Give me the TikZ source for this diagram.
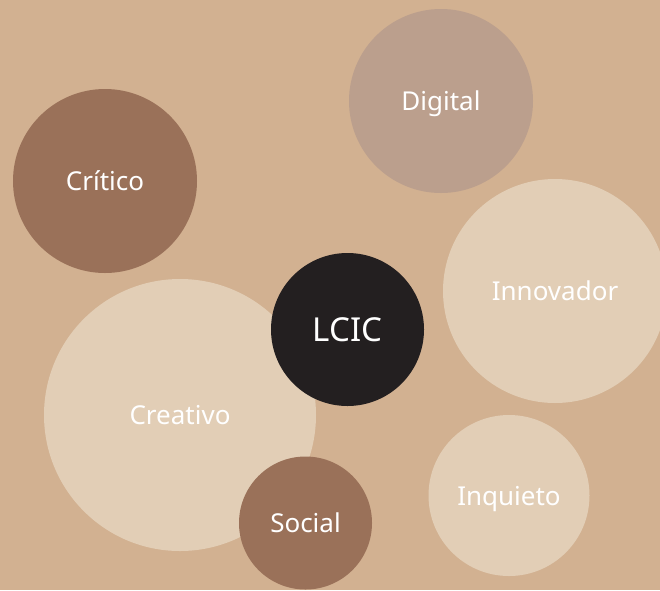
\documentclass[tikz,border=0pt]{standalone}
\usepackage{fontspec}
\setmainfont{Noto Sans}
\definecolor{bgtan}{HTML}{D2B191}
\definecolor{darkbrown}{HTML}{9A7159}
\definecolor{mauve}{HTML}{BB9F8D}
\definecolor{cream}{HTML}{E2CEB6}
\definecolor{ink}{HTML}{231F20}
\begin{document}
\begin{tikzpicture}[x=1pt,y=-1pt,
  bubble/.style={circle, inner sep=0pt, text=white, text height=19.5pt, text depth=0pt,
    font=\fontsize{26}{30}\selectfont}]
\useasboundingbox (0,0) rectangle (660,590);
\clip (0,0) rectangle (660,590);
\fill[bgtan] (0,0) rectangle (660,590);
\node[bubble, fill=mauve, minimum size=184pt] (digital) at (441,101) {Digital};
\node[bubble, fill=darkbrown, minimum size=184pt] (critico) at (105,181) {Crítico};
\node[bubble, fill=cream, minimum size=224pt] (innovador) at (555,291) {Innovador};
\node[bubble, fill=cream, minimum size=272pt] (creativo) at (180,415) {Creativo};
\node[bubble, fill=ink, minimum size=153pt, text height=23.6pt, font=\fontsize{33}{38}\selectfont] (lcic) at (347.5,329.5) {LCIC};
\node[bubble, fill=darkbrown, minimum size=133pt] (social) at (305.5,523) {Social};
\node[bubble, fill=cream, minimum size=161pt] (inquieto) at (509,495.5) {Inquieto};
\end{tikzpicture}
\end{document}
